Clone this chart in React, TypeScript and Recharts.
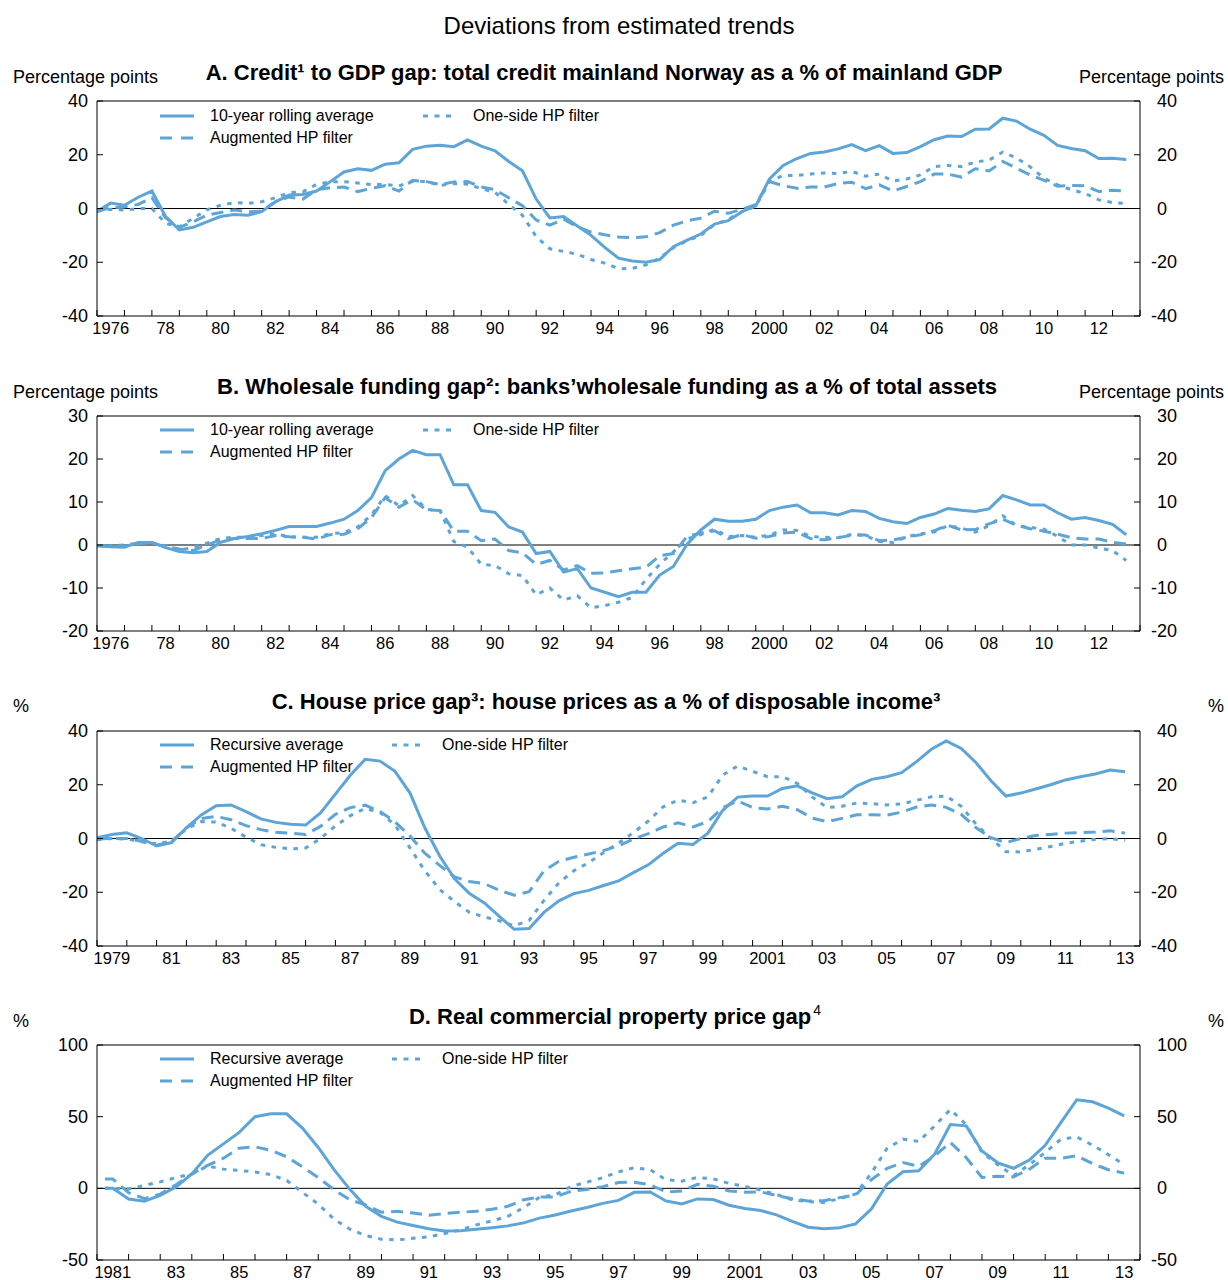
import React from "react";
import { LineChart, Line, XAxis, YAxis, ReferenceLine } from "recharts";

const BLUE = "#5da5d8";
const FONT = "'Liberation Sans', Arial, Helvetica, sans-serif";

// half-year time grid (x categories)
const halfYears = (from: number, to: number) => {
  const out: number[] = [];
  for (let t = from; t <= to + 1e-9; t += 0.5) out.push(t);
  return out;
};

const timesAB = halfYears(1976, 2013.5);
const timesC = halfYears(1979, 2013.5);
const timesD = [1981.25, ...halfYears(1981.5, 2013.5)];

const xLabelsAB = ["1976", "78", "80", "82", "84", "86", "88", "90", "92", "94", "96", "98", "2000", "02", "04", "06", "08", "10", "12"];
const xLabelsC = ["1979", "81", "83", "85", "87", "89", "91", "93", "95", "97", "99", "2001", "03", "05", "07", "09", "11", "13"];
const xLabelsD = ["1981", "83", "85", "87", "89", "91", "93", "95", "97", "99", "2001", "03", "05", "07", "09", "11", "13"];

// A. Credit to GDP gap
const creditRolling = [
  -1, 2, 1.2, 4.2, 6.5, -3, -8, -7, -5, -3,
  -2.2, -2.5, -1.2, 2.5, 5, 5.2, 6.5, 10, 13.6, 14.8,
  14.2, 16.5, 17, 22, 23.2, 23.5, 23, 25.5, 23.2, 21.5,
  17.5, 14, 3.5, -3.5, -3, -6.5, -10, -14.5, -18.5, -19.5,
  -20, -19, -14.2, -11.8, -9.5, -5.8, -4.5, -1.2, 1, 11,
  16, 18.6, 20.5, 21, 22.2, 23.8, 21.5, 23.4, 20.5, 20.8,
  23, 25.6, 27, 26.8, 29.5, 29.6, 33.6, 32.5, 29.5, 27.2,
  23.5, 22.3, 21.5, 18.6, 18.7, 18.2,
];
const creditAugHP = [
  -1, 0.3, 0.6, 1.5, 4, -3.5, -7, -5, -2.5, -1.5,
  -0.6, -1.2, -1, 2.5, 4.3, 3.5, 7, 7.7, 8, 6.3,
  7.5, 8.5, 6.5, 10.5, 10, 8.9, 9.9, 10, 8, 7,
  4, 1, -4.3, -6.2, -4, -6.8, -8.8, -9.8, -10.6, -10.9,
  -10.5, -9, -6.2, -4.6, -3.6, -1, -1.8, -0.3, 1.5, 10,
  8.5, 7.5, 8, 8, 9.3, 9.8, 7.4, 8.8, 6.5, 8.2,
  10, 12.8, 12.8, 11.7, 14.8, 14, 17.5, 15, 12.5, 10.5,
  8.3, 8.6, 8.5, 6.3, 6.8, 6.5,
];
const creditOneSide = [
  -1, -0.3, -0.6, 0, 0, -5.5, -6.8, -3.7, -0.5, 1.2,
  2.2, 1.9, 2.5, 4, 5.9, 6.2, 9, 9.9, 10, 9.5,
  8.9, 9, 8.4, 10.1, 10, 8.6, 9.3, 9, 7.4, 6,
  1.5, -2.5, -10.5, -15, -16, -17, -19, -20.3, -22.4, -22.3,
  -21, -18.5, -14.6, -12, -10, -6, -4, -1.2, 0.8, 10,
  12.3, 12.3, 12.8, 13.2, 13, 13.8, 12, 12.8, 10.2, 11,
  12.5, 15.6, 16, 15.6, 17.3, 18, 21, 18.8, 15.5, 11.3,
  8.8, 7, 5.6, 3.2, 2.2, 1.9,
];

// B. Wholesale funding gap
const fundingRolling = [
  -0.1, -0.4, -0.5, 0.6, 0.6, -0.6, -1.5, -1.8, -1.5, 0.6,
  1.5, 2, 2.6, 3.4, 4.3, 4.3, 4.3, 5.1, 6, 8,
  11, 17.3, 20, 22, 21, 21, 14, 14, 8, 7.6,
  4.2, 3, -2, -1.5, -6.3, -5.5, -10, -11, -12, -11,
  -11, -7, -5, 0.2, 3.5, 6, 5.5, 5.5, 6, 8,
  8.8, 9.3, 7.5, 7.5, 7, 8, 7.8, 6.2, 5.4, 5,
  6.4, 7.2, 8.5, 8.1, 7.8, 8.4, 11.5, 10.5, 9.3, 9.3,
  7.5, 6, 6.4, 5.7, 4.8, 2.4,
];
const fundingAugHP = [
  -0.2, -0.4, -0.3, 0.3, 0.5, -0.4, -0.9, -1.3, 0, 1.2,
  1.5, 1.5, 1.5, 2.2, 1.9, 1.8, 1.4, 2.4, 2.5, 3.8,
  6.4, 11, 8.8, 10.5, 8.2, 8, 3.2, 3.2, 1, 1.4,
  -1.3, -1.8, -4.5, -3.6, -5.8, -4.8, -6.6, -6.5, -6, -5.5,
  -5.2, -2.5, -2, 2, 2.8, 3.3, 1.5, 2.4, 1.6, 2,
  2.8, 3, 1.5, 1.2, 1.7, 2.3, 2.3, 1, 1.2, 1.8,
  2.4, 3.3, 4.6, 3.5, 3.6, 4.9, 6, 4.6, 3.8, 3.2,
  2.5, 1.7, 1.4, 1.4, 0.6, 0.2,
];
const fundingOneSide = [
  -0.2, -0.2, 0, 0.4, 0.5, -0.2, -1.2, -0.6, 0.4, 1.5,
  1.8, 1.8, 2.2, 2.6, 1.9, 1.8, 1.8, 2.6, 2.9, 4.2,
  7, 11.5, 9.1, 11.5, 8.3, 8, 0.8, -0.5, -4.5, -4.8,
  -6.7, -7.1, -11.6, -10, -12.8, -11.8, -14.6, -14.1, -13.3, -12.2,
  -8, -4.5, -1.6, 1.4, 2.4, 3.7, 1.9, 2.2, 1.8, 2.3,
  3.5, 3.4, 2, 1.8, 1.7, 2.5, 2.2, 0.8, 0.6, 1.9,
  2.6, 3, 4.5, 3.9, 3, 4.5, 6.8, 4.5, 4.1, 3.7,
  2, 0, 0, -0.7, -1.3, -3.6,
];

// C. House price gap
const houseRecursive = [
  0.3, 1.5, 2.1, 0, -2.8, -1.5, 4, 8.8, 12.2, 12.5,
  10, 7.3, 6, 5.3, 5, 9.5, 16.5, 23.5, 29.5, 28.8,
  25, 17, 4, -6.5, -15, -20.5, -24, -29, -33.8, -33.5,
  -27.5, -23.2, -20.5, -19.3, -17.5, -15.8, -12.7, -9.8, -5.5, -1.8,
  -2.2, 2, 10.5, 15.4, 15.8, 15.8, 18.6, 19.6, 17, 14.8,
  15.5, 19.6, 22, 23, 24.5, 28.6, 33.2, 36.3, 33.5, 28.2,
  21.5, 15.8, 16.9, 18.4, 20, 21.8, 23, 24, 25.5, 24.8,
];
const houseAugHP = [
  -0.2, 0, 0, -1, -2.5, -1.2, 4, 7.4, 8.2, 7,
  4.8, 3.3, 2.3, 2, 1.5, 4.5, 9, 11.5, 12.4, 10,
  6.2, 1, -5.5, -10, -14.3, -16, -16.8, -19.3, -21.1, -19.8,
  -12, -8.5, -7, -5.8, -4.5, -2.7, -0.2, 1.8, 4.3, 5.8,
  4.3, 6.3, 11.5, 14, 11.5, 11, 12, 10.7, 7.6, 6.3,
  7.5, 8.8, 8.8, 8.7, 9.8, 11.7, 12.5, 11.6, 9, 4,
  0.3, -1.5, 0, 1.1, 1.5, 2, 2.2, 2.4, 2.9, 2,
];
const houseOneSide = [
  -0.5, 0, -0.2, -1.2, -2, -1, 3.5, 6.3, 6.1, 3.8,
  0.5, -2.3, -3.3, -3.9, -3.5, 0, 4.7, 8.5, 11.2, 9.7,
  5, -3.5, -12, -19, -23.5, -27.5, -29.2, -30.6, -32.5, -30.5,
  -23, -16.5, -12, -9, -5.2, -1.7, 2.2, 6.5, 11.8, 14.3,
  13.3, 15.5, 23.6, 27, 25, 23, 23, 20.5, 15.5, 11.5,
  12, 13.2, 13, 12.5, 12.9, 14.2, 15.5, 15.8, 12, 5.3,
  0, -4.9, -5, -4, -3, -1.8, -1, -0.3, 0, -0.7,
];

// D. Real commercial property price gap
const propRecursive = [
  0, 0,
  -7.5, -9, -5, 1, 10, 23, 31, 39, 50, 52,
  52, 42, 28.5, 13, -0.7, -12.5, -19.5, -23.6, -25.9, -28.2,
  -29.8, -29.6, -28.6, -27.5, -26.2, -24.1, -20.8, -18.6, -15.8, -13.4,
  -10.5, -8.4, -2.8, -2.5, -8.8, -10.9, -7.4, -7.8, -11.8, -14,
  -15.5, -18.5, -23, -27.1, -28.2, -27.5, -24.8, -14.5, 3, 11.6,
  12.3, 23.8, 44.5, 43.6, 26, 17.8, 14, 19.7, 30, 46,
  61.8, 60.4, 56, 50.6,
];
const propAugHP = [
  6.5, 6.5,
  -3, -7.2, -4, 2.5, 10, 16, 21, 28, 29, 26.5,
  22, 15, 7.5, -1, -8, -11.5, -16.7, -16, -17.2, -18.8,
  -17.6, -16.7, -16, -14.6, -12.5, -8, -6, -6, -2, -0.8,
  1.2, 4, 4.3, 2.5, -2.5, -1.8, 2.8, 1.5, -1.8, -2.8,
  -2.5, -5, -7.3, -8.8, -8.6, -6.5, -4.6, 6, 14, 18,
  15.3, 22.5, 32, 21.5, 7.6, 8.5, 8, 13.4, 21, 21,
  22.7, 17.2, 13, 10.6,
];
const propOneSide = [
  0, 0,
  -0.4, 2, 4.5, 7.5, 10, 15.5, 13.4, 12.5, 11.4, 9.5,
  5.5, -2.8, -11, -21.5, -28.5, -33, -35.5, -36, -34.8, -33.8,
  -31.5, -29, -25.5, -22.7, -19.5, -13.5, -6.2, -4.5, 1.3, 4.3,
  7.4, 11.5, 14.4, 13, 6, 5, 7.6, 6.6, 3.5, 1.3,
  -1.3, -4.3, -8, -9.3, -9.8, -7.2, -4, 10.5, 28, 34.3,
  32.7, 43.5, 55, 44.5, 25, 16.5, 8.8, 16.5, 25, 34.3,
  35.8, 30.1, 23.5, 16.5,
];

const DASH = "12 7";
const DOT = "4.5 6.5";
const TOP_PAD = 15;

type PanelProps = {
  top: number;
  times: number[];
  solid: number[];
  dashed: number[];
  dotted: number[];
  xStart: number;
  xLabels: string[];
  yDomain: [number, number];
  yTicks: number[];
};

const Panel = (p: PanelProps) => {
  const data = p.times.map((t, i) => ({
    t,
    solid: p.solid[i],
    dashed: p.dashed[i],
    dotted: p.dotted[i],
  }));
  const yearTicks: number[] = [];
  for (let y = p.xStart; y <= 2014; y++) yearTicks.push(y);
  const labelTicks = p.xLabels.map((_, i) => p.xStart + 0.5 + 2 * i);
  const labelOf = (v: number) => {
    const i = labelTicks.indexOf(v);
    return i >= 0 ? p.xLabels[i] : null;
  };

  const XTick = (props: any) => {
    const { x, y, payload } = props;
    const lab = labelOf(payload.value);
    if (lab !== null) {
      return (
        <text x={x} y={y + 14} textAnchor="middle" dominantBaseline="middle" fontSize={16.5} fill="#000" fontFamily={FONT}>
          {lab}
        </text>
      );
    }
    return <line x1={x} x2={x} y1={y} y2={y - 6} stroke="#000" strokeWidth={1} />;
  };

  const LTick = (props: any) => {
    const { x, y, payload } = props;
    return (
      <g>
        <line x1={x} x2={x + 6} y1={y} y2={y} stroke="#000" />
        <text x={x - 9} y={y} textAnchor="end" dominantBaseline="central" fontSize={18} fill="#000" fontFamily={FONT}>
          {payload.value}
        </text>
      </g>
    );
  };

  const RTick = (props: any) => {
    const { x, y, payload } = props;
    const v = payload.value as number;
    return (
      <g>
        <line x1={x - 6} x2={x} y1={y} y2={y} stroke="#000" />
        {v < 0 && (
          <text x={x + 17} y={y} textAnchor="end" dominantBaseline="central" fontSize={18} fill="#000" fontFamily={FONT}>
            -
          </text>
        )}
        <text x={x + 17} y={y} textAnchor="start" dominantBaseline="central" fontSize={18} fill="#000" fontFamily={FONT}>
          {Math.abs(v)}
        </text>
      </g>
    );
  };

  return (
    <div style={{ position: "absolute", left: 0, top: p.top - TOP_PAD }}>
      <LineChart width={1228} height={215 + TOP_PAD + 30} data={data} margin={{ top: TOP_PAD, right: 0, bottom: 0, left: 0 }}>
        <XAxis
          dataKey="t"
          type="number"
          domain={[p.xStart, 2014]}
          ticks={[...yearTicks, ...labelTicks]}
          interval={0}
          tick={XTick}
          tickLine={false}
          tickSize={0}
          tickMargin={0}
          height={30}
          stroke="#000"
          allowDataOverflow
        />
        <YAxis
          yAxisId="l"
          orientation="left"
          width={97}
          domain={p.yDomain}
          ticks={p.yTicks}
          interval={0}
          tick={LTick}
          tickLine={false}
          tickSize={0}
          tickMargin={0}
          stroke="#000"
          allowDataOverflow
        />
        <YAxis
          yAxisId="r"
          orientation="right"
          width={88}
          domain={p.yDomain}
          ticks={p.yTicks}
          interval={0}
          tick={RTick}
          tickLine={false}
          tickSize={0}
          tickMargin={0}
          stroke="#000"
          allowDataOverflow
        />
        <ReferenceLine yAxisId="l" y={p.yDomain[1]} stroke="#000" strokeWidth={1} />
        <ReferenceLine yAxisId="l" y={0} stroke="#000" strokeWidth={1} />
        <Line yAxisId="l" type="linear" dataKey="dotted" stroke={BLUE} strokeWidth={3} strokeDasharray={DOT} dot={false} isAnimationActive={false} />
        <Line yAxisId="l" type="linear" dataKey="dashed" stroke={BLUE} strokeWidth={3} strokeDasharray={DASH} dot={false} isAnimationActive={false} />
        <Line yAxisId="l" type="linear" dataKey="solid" stroke={BLUE} strokeWidth={3} dot={false} isAnimationActive={false} />
      </LineChart>
    </div>
  );
};

const Txt = ({ x, y, size, bold, anchor = "start", children }: any) => (
  <div
    style={{
      position: "absolute",
      left: x,
      top: y,
      transform: `translate(${anchor === "middle" ? "-50%" : anchor === "end" ? "-100%" : "0"}, -50%)`,
      fontSize: size,
      fontWeight: bold ? 700 : 400,
      lineHeight: 1,
      whiteSpace: "nowrap",
      color: "#000",
    }}
  >
    {children}
  </div>
);

const Sample = ({ x, y, dash, w = 34 }: any) => (
  <svg width={w} height={8} style={{ position: "absolute", left: x, top: y - 4 }}>
    <line x1={0} x2={w} y1={4} y2={4} stroke={BLUE} strokeWidth={3} strokeDasharray={dash} />
  </svg>
);

const Legend3 = ({ y, first, dotX }: { y: number; first: string; dotX: number }) => (
  <>
    <Sample x={160} y={y} />
    <Txt x={210} y={y} size={16}>{first}</Txt>
    <Sample x={160} y={y + 22} dash="12 9" w={35} />
    <Txt x={210} y={y + 22} size={16}>Augmented HP filter</Txt>
    <Sample x={dotX} y={y} dash="5 6.5" w={33} />
    <Txt x={dotX + 50} y={y} size={16}>One-side HP filter</Txt>
  </>
);

export default function App() {
  return (
    <div style={{ position: "absolute", left: 0, top: 0, width: 1228, height: 1280, background: "#fff", fontFamily: FONT }}>
      <Txt x={619} y={26} size={24} anchor="middle">Deviations from estimated trends</Txt>

      {/* A */}
      <Txt x={13} y={77} size={18}>Percentage points</Txt>
      <Txt x={1224} y={77} size={18} anchor="end">Percentage points</Txt>
      <Txt x={604} y={73} size={22} bold anchor="middle">
        A. Credit¹ to GDP gap: total credit mainland Norway as a % of mainland GDP
      </Txt>
      <Panel top={101} times={timesAB} solid={creditRolling} dashed={creditAugHP} dotted={creditOneSide}
        xStart={1976} xLabels={xLabelsAB} yDomain={[-40, 40]} yTicks={[-40, -20, 0, 20, 40]} />
      <Legend3 y={116} first="10-year rolling average" dotX={423} />

      {/* B */}
      <Txt x={13} y={392} size={18}>Percentage points</Txt>
      <Txt x={1224} y={392} size={18} anchor="end">Percentage points</Txt>
      <Txt x={607} y={387} size={22} bold anchor="middle">
        B. Wholesale funding gap²: banks’wholesale funding as a % of total assets
      </Txt>
      <Panel top={416} times={timesAB} solid={fundingRolling} dashed={fundingAugHP} dotted={fundingOneSide}
        xStart={1976} xLabels={xLabelsAB} yDomain={[-20, 30]} yTicks={[-20, -10, 0, 10, 20, 30]} />
      <Legend3 y={430} first="10-year rolling average" dotX={423} />

      {/* C */}
      <Txt x={13} y={706} size={18}>%</Txt>
      <Txt x={1224} y={706} size={18} anchor="end">%</Txt>
      <Txt x={606} y={702} size={22} bold anchor="middle">
        C. House price gap³: house prices as a % of disposable income³
      </Txt>
      <Panel top={731} times={timesC} solid={houseRecursive} dashed={houseAugHP} dotted={houseOneSide}
        xStart={1979} xLabels={xLabelsC} yDomain={[-40, 40]} yTicks={[-40, -20, 0, 20, 40]} />
      <Legend3 y={745} first="Recursive average" dotX={392} />

      {/* D */}
      <Txt x={13} y={1021} size={18}>%</Txt>
      <Txt x={1224} y={1021} size={18} anchor="end">%</Txt>
      <Txt x={615} y={1017} size={22} bold anchor="middle">
        D. Real commercial property price gap
        <span style={{ fontWeight: 400, fontSize: 14, position: "relative", top: -9, marginLeft: 2 }}>4</span>
      </Txt>
      <Panel top={1045} times={timesD} solid={propRecursive} dashed={propAugHP} dotted={propOneSide}
        xStart={1981} xLabels={xLabelsD} yDomain={[-50, 100]} yTicks={[-50, 0, 50, 100]} />
      <Legend3 y={1059} first="Recursive average" dotX={392} />
    </div>
  );
}
